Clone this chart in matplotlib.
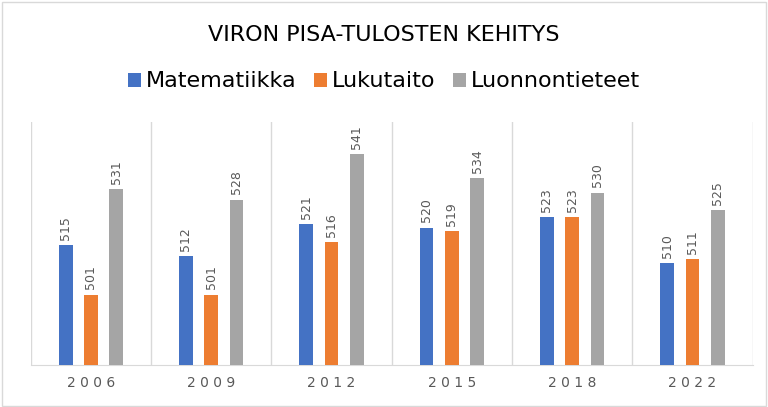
import matplotlib
matplotlib.use("Agg")
import matplotlib.pyplot as plt
from matplotlib.patches import Rectangle
import numpy as np

years = ["2006", "2009", "2012", "2015", "2018", "2022"]
series_names = ["Matematiikka", "Lukutaito", "Luonnontieteet"]
matematiikka = [515, 512, 521, 520, 523, 510]
lukutaito = [501, 501, 516, 519, 523, 511]
luonnontieteet = [531, 528, 541, 534, 530, 525]
colors = ["#4472C4", "#ED7D31", "#A5A5A5"]

fig = plt.figure(figsize=(7.68, 4.07), dpi=100)
fig.patches.append(Rectangle((0.002, 0.003), 0.995, 0.993, transform=fig.transFigure,
                             fill=False, edgecolor="#D9D9D9", lw=1))
ax = fig.add_axes([0.04, 0.103, 0.94, 0.597])
x = np.arange(len(years))
w = 0.115
for i, (vals, c, n) in enumerate(zip([matematiikka, lukutaito, luonnontieteet], colors, series_names)):
    bars = ax.bar(x + (i - 1) * 0.21, vals, w, color=c, label=n, zorder=3)
    for b, v in zip(bars, vals):
        ax.text(b.get_x() + b.get_width() / 2, v + 1.5, str(v), rotation=90,
                ha="center", va="bottom", fontsize=9, color="#595959")
ax.set_ylim(481, 550)
ax.set_xlim(-0.5, len(years) - 0.5)
ax.set_yticks([])
ax.set_xticks(x)
ax.set_xticklabels([" ".join(y) for y in years], fontsize=10, color="#595959")
ax.tick_params(axis="x", length=0, pad=8)
for xs in np.arange(-0.5, len(years), 1.0):
    ax.axvline(xs, color="#D9D9D9", lw=1, zorder=1)
for s in ["top", "left", "right"]:
    ax.spines[s].set_visible(False)
ax.spines["bottom"].set_color("#D9D9D9")
fig.text(0.5, 0.915, "VIRON PISA-TULOSTEN KEHITYS", ha="center", va="center", fontsize=16, color="black")
fig.legend(loc="center", bbox_to_anchor=(0.5, 0.8), ncol=3, frameon=False,
           fontsize=16, handlelength=0.6, handleheight=0.6, columnspacing=0.8, handletextpad=0.2)
fig.savefig("out.png", dpi=100)
